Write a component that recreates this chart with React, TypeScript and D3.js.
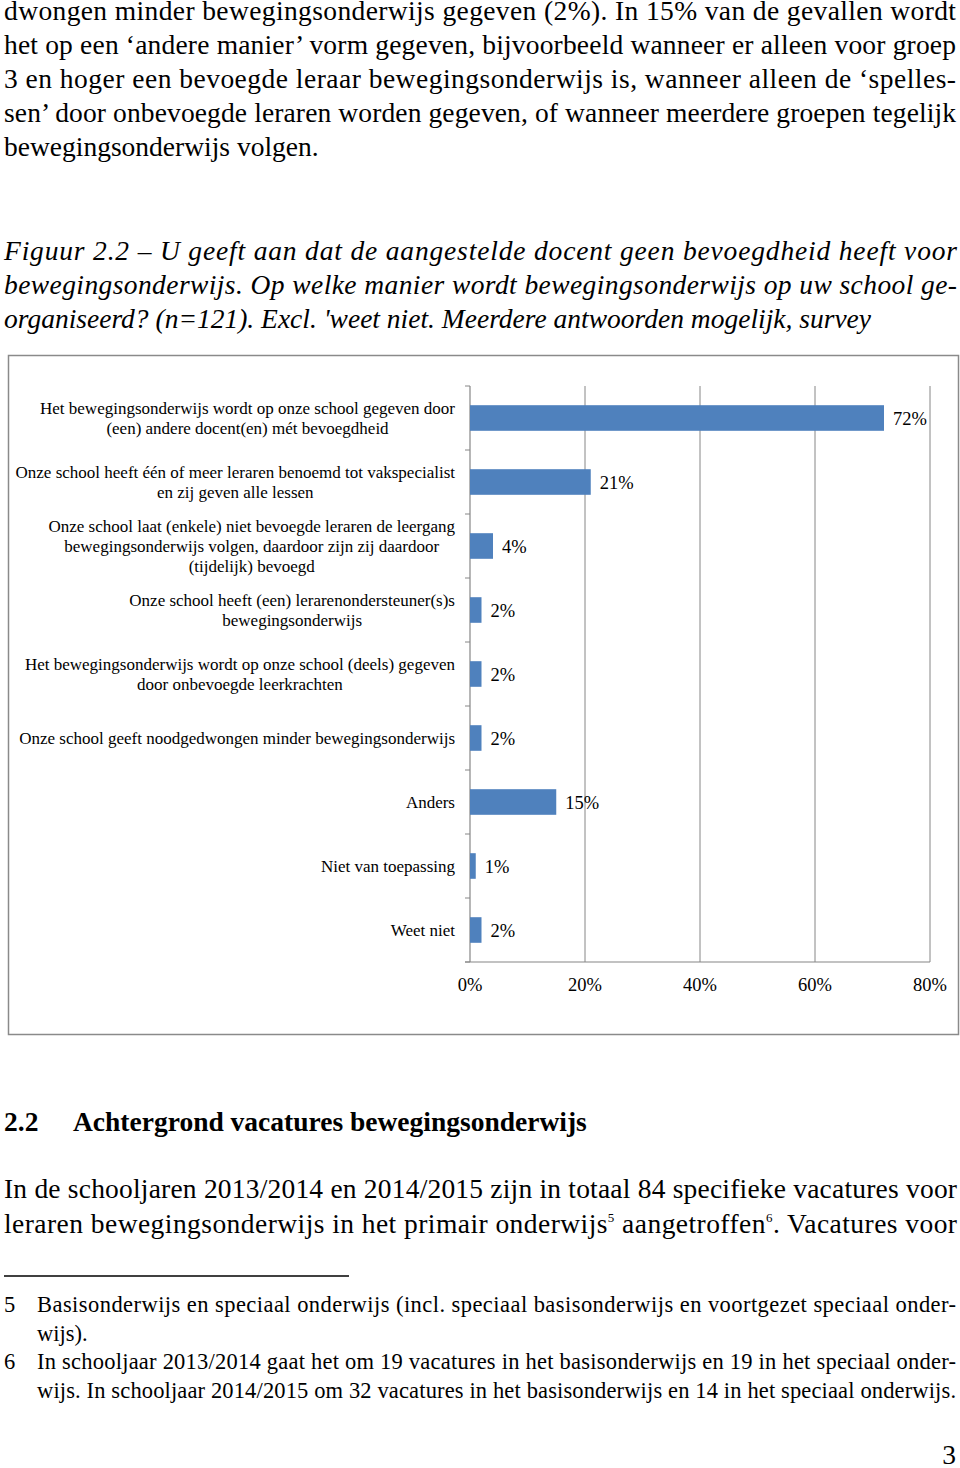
import React, { useEffect, useRef } from "react";
import * as d3 from "d3";

// chart data
const categories: string[][] = [
  ["Het bewegingsonderwijs wordt op onze school gegeven door", "(een) andere docent(en) mét bevoegdheid"],
  ["Onze school heeft één of meer leraren benoemd tot vakspecialist", "en zij geven alle lessen"],
  ["Onze school laat (enkele) niet bevoegde leraren de leergang", "bewegingsonderwijs volgen, daardoor zijn zij daardoor", "(tijdelijk) bevoegd"],
  ["Onze school heeft (een) lerarenondersteuner(s)s", "bewegingsonderwijs"],
  ["Het bewegingsonderwijs wordt op onze school (deels) gegeven", "door onbevoegde leerkrachten"],
  ["Onze school geeft noodgedwongen minder bewegingsonderwijs"],
  ["Anders"],
  ["Niet van toepassing"],
  ["Weet niet"],
];
const values = [72, 21, 4, 2, 2, 2, 15, 1, 2];
const xTicks = [0, 20, 40, 60, 80];

// page text
const para1 = [
  "dwongen minder bewegingsonderwijs gegeven (2%). In 15% van de gevallen wordt",
  "het op een ‘andere manier’ vorm gegeven, bijvoorbeeld wanneer er alleen voor groep",
  "3 en hoger een bevoegde leraar bewegingsonderwijs is, wanneer alleen de ‘spelles-",
  "sen’ door onbevoegde leraren worden gegeven, of wanneer meerdere groepen tegelijk",
  "bewegingsonderwijs volgen.",
];
const caption = [
  "Figuur 2.2 – U geeft aan dat de aangestelde docent geen bevoegdheid heeft voor",
  "bewegingsonderwijs. Op welke manier wordt bewegingsonderwijs op uw school ge-",
  "organiseerd? (n=121). Excl. 'weet niet. Meerdere antwoorden mogelijk, survey",
];
const footnotes = [
  { num: "5", lines: ["Basisonderwijs en speciaal onderwijs (incl. speciaal basisonderwijs en voortgezet speciaal onder-", "wijs)."] },
  { num: "6", lines: ["In schooljaar 2013/2014 gaat het om 19 vacatures in het basisonderwijs en 19 in het speciaal onder-", "wijs. In schooljaar 2014/2015 om 32 vacatures in het basisonderwijs en 14 in het speciaal onderwijs."] },
];

const SERIF = "'Liberation Serif', 'Times New Roman', serif";
const BODY = 27.5;
const FOOT = 22.5;

function Chart() {
  const ref = useRef<SVGGElement>(null);

  useEffect(() => {
    const g = d3.select(ref.current);
    g.selectAll("*").remove();

    const x = d3.scaleLinear().domain([0, 80]).range([470, 930]);
    const y = d3
      .scaleBand<number>()
      .domain(d3.range(values.length))
      .range([386, 962])
      .paddingInner(0.6)
      .paddingOuter(0.3);
    const top = 386, bottom = 962;

    g.append("rect")
      .attr("x", 8.5).attr("y", 355.5).attr("width", 950).attr("height", 679)
      .attr("fill", "#fff").attr("stroke", "#8a8a8a").attr("stroke-width", 1.5);

    // gridlines
    g.selectAll(".grid")
      .data(xTicks.slice(1))
      .enter().append("line")
      .attr("x1", (d) => x(d)).attr("x2", (d) => x(d))
      .attr("y1", top).attr("y2", bottom)
      .attr("stroke", "#868686").attr("stroke-width", 1);

    // y axis + ticks at band boundaries
    g.append("line").attr("x1", 470).attr("x2", 470).attr("y1", top).attr("y2", bottom)
      .attr("stroke", "#868686").attr("stroke-width", 1.2);
    g.selectAll(".ytick")
      .data(d3.range(values.length + 1))
      .enter().append("line")
      .attr("x1", 465).attr("x2", 470)
      .attr("y1", (i) => top + i * y.step()).attr("y2", (i) => top + i * y.step())
      .attr("stroke", "#868686");

    // x axis
    g.append("line").attr("x1", 465).attr("x2", x(80)).attr("y1", bottom).attr("y2", bottom)
      .attr("stroke", "#868686").attr("stroke-width", 1.2);
    g.selectAll(".xlab")
      .data(xTicks)
      .enter().append("text")
      .attr("x", (d) => x(d)).attr("y", 991)
      .attr("text-anchor", "middle")
      .attr("font-size", 18.5)
      .text((d) => d + "%");

    // bars
    g.selectAll(".bar")
      .data(values)
      .enter().append("rect")
      .attr("x", x(0))
      .attr("y", (_, i) => y(i)!)
      .attr("width", (d) => x(d) - x(0))
      .attr("height", y.bandwidth())
      .attr("fill", "#4f81bd");

    g.selectAll(".val")
      .data(values)
      .enter().append("text")
      .attr("x", (d) => x(d) + 9)
      .attr("y", (_, i) => y(i)! + y.bandwidth() / 2 + 6.5)
      .attr("font-size", 18.5)
      .text((d) => d + "%");

    // category labels, lines centred, block right aligned
    categories.forEach((lines, i) => {
      const cy = y(i)! + y.bandwidth() / 2;
      const lab = g.append("g");
      const texts = lines.map((ln, j) =>
        lab.append("text")
          .attr("y", cy + (j - (lines.length - 1) / 2) * 20 + 5.5)
          .attr("font-size", 17)
          .attr("text-anchor", "middle")
          .text(ln)
      );
      const w = d3.max(texts, (t) => (t.node() as SVGTextElement).getComputedTextLength()) || 0;
      texts.forEach((t) => t.attr("x", 455 - w / 2));
    });
  }, []);

  return <g ref={ref} fontFamily={SERIF} fill="#000" />;
}

function Line({ x, y, w, size, style, weight, anchor, children }: any) {
  return (
    <text
      x={x}
      y={y}
      fontSize={size}
      fontStyle={style}
      fontWeight={weight}
      textAnchor={anchor}
      textLength={w}
      lengthAdjust={w ? "spacing" : undefined}
    >
      {children}
    </text>
  );
}

export default function App() {
  return (
    <svg
      width={960}
      height={1468}
      style={{ position: "absolute", left: 0, top: 0, background: "#fff" }}
      fontFamily={SERIF}
    >
      <g fill="#000">
        {para1.map((t, i) => (
          <Line key={i} x={4} y={20 + i * 34} w={i < para1.length - 1 ? 952 : undefined} size={BODY}>
            {t}
          </Line>
        ))}
        {caption.map((t, i) => (
          <Line key={i} x={4} y={260 + i * 34} w={i < caption.length - 1 ? 953 : undefined} size={BODY} style="italic">
            {t}
          </Line>
        ))}
      </g>

      <Chart />

      <g fill="#000">
        <Line x={4} y={1131} size={BODY} weight="bold">2.2</Line>
        <Line x={73} y={1131} size={BODY} weight="bold">Achtergrond vacatures bewegingsonderwijs</Line>

        <Line x={4} y={1198} w={953} size={BODY}>
          In de schooljaren 2013/2014 en 2014/2015 zijn in totaal 84 specifieke vacatures voor
        </Line>
        <Line x={4} y={1233} w={953} size={BODY}>
          leraren bewegingsonderwijs in het primair onderwijs
          <tspan fontSize={13} dy={-11}>5</tspan>
          <tspan dy={11}> aangetroffen</tspan>
          <tspan fontSize={13} dy={-11}>6</tspan>
          <tspan dy={11}>. Vacatures voor</tspan>
        </Line>

        <line x1={4} x2={349} y1={1276} y2={1276} stroke="#000" strokeWidth={1.5} />

        {footnotes.map((f, k) => (
          <g key={k}>
            <Line x={4} y={1312 + k * 57} size={FOOT}>{f.num}</Line>
            {f.lines.map((t, j) => (
              <Line
                key={j}
                x={37}
                y={1312 + k * 57 + j * 29}
                w={k === 1 || j === 0 ? 919 : undefined}
                size={FOOT}
              >
                {t}
              </Line>
            ))}
          </g>
        ))}

        <Line x={956} y={1464} size={BODY} anchor="end">3</Line>
      </g>
    </svg>
  );
}
